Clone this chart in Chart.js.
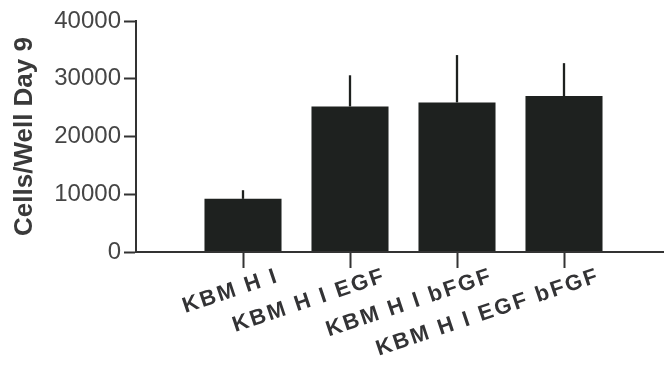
<!DOCTYPE html>
<html>
<head>
<meta charset="utf-8">
<script src="https://cdn.jsdelivr.net/npm/chart.js@4/dist/chart.umd.min.js"></script>
<style>
  html, body { margin: 0; padding: 0; background: #ffffff; overflow: hidden; }
  #wrap { width: 671px; height: 369px; }
</style>
</head>
<body>
<div id="wrap"><canvas id="c" width="671" height="369"></canvas></div>
<script>
// ---- data ----
const categories = ['KBM H I', 'KBM H I EGF', 'KBM H I bFGF', 'KBM H I EGF bFGF'];
const cellsPerWell = [9200, 25200, 25900, 27000];
const errorPlus = [1500, 5400, 8200, 5700];
const yTickValues = [0, 10000, 20000, 30000, 40000];
const yTitle = 'Cells/Well Day 9';

// the library's table: one empty slot on each side so the axis starts at the y-axis
const labels = [''].concat(categories, ['']);
const values = [null].concat(cellsPerWell, [null]);
const errs = [null].concat(errorPlus, [null]);

const FONT = "'Liberation Sans', Arial, Helvetica, sans-serif";
const INK = '#333335';

const errorBarPlugin = {
  id: 'errorBars',
  beforeDraw(chart) { chart.ctx.letterSpacing = '0px'; },
  afterDatasetsDraw(chart) {
    const ctx = chart.ctx;
    const meta = chart.getDatasetMeta(0);
    const ys = chart.scales.y;
    ctx.save();
    ctx.strokeStyle = '#1e211f';
    ctx.lineWidth = 2.3;
    meta.data.forEach((bar, i) => {
      if (values[i] == null) return;
      const top = ys.getPixelForValue(values[i] + errs[i]);
      ctx.beginPath();
      ctx.moveTo(bar.x, bar.y);
      ctx.lineTo(bar.x, top);
      ctx.stroke();
    });
    ctx.restore();
    ctx.letterSpacing = '2.2px';
  }
};

new Chart(document.getElementById('c'), {
  type: 'bar',
  data: {
    labels: labels,
    datasets: [{
      data: values,
      backgroundColor: '#1e211f',
      borderWidth: 0,
      barPercentage: 0.72,
      categoryPercentage: 1.0
    }]
  },
  options: {
    responsive: false,
    animation: false,
    devicePixelRatio: 1,
    layout: { padding: { top: 21, right: 0, left: 0, bottom: 0 } },
    plugins: { legend: { display: false }, tooltip: { enabled: false } },
    scales: {
      x: {
        offset: false,
        afterFit: s => { s.height = 117; s.paddingLeft = 0; s.paddingRight = 0; },
        border: { display: true, color: '#333', width: 2, z: 1 },
        grid: {
          offset: false,
          drawOnChartArea: false,
          drawTicks: true,
          tickLength: 16,
          tickWidth: 2,
          tickColor: c => (c.index === 0 || c.index === labels.length - 1) ? 'rgba(0,0,0,0)' : '#333',
          z: 1
        },
        ticks: {
          autoSkip: false,
          minRotation: 18.5,
          maxRotation: 18.5,
          padding: -5,
          labelOffset: 35,
          color: INK,
          font: { family: FONT, size: 22, weight: 'bold' },
          z: 1
        }
      },
      y: {
        min: 0,
        max: 40000,
        afterFit: s => { s.width = 136; },
        afterBuildTicks: s => { s.ticks = yTickValues.map(v => ({ value: v })); },
        border: { display: true, color: '#333', width: 2 },
        grid: {
          drawOnChartArea: false,
          drawTicks: true,
          tickLength: 12,
          tickWidth: 2,
          tickColor: '#333'
        },
        ticks: {
          padding: 3,
          color: '#454545',
          font: { family: FONT, size: 24 },
          callback: v => String(v)
        },
        title: {
          display: true,
          text: yTitle,
          color: '#3a3a3a',
          font: { family: FONT, size: 26, weight: 'bold' },
          padding: { top: 9, bottom: 0 }
        }
      }
    }
  },
  plugins: [errorBarPlugin]
});
</script>
</body>
</html>
